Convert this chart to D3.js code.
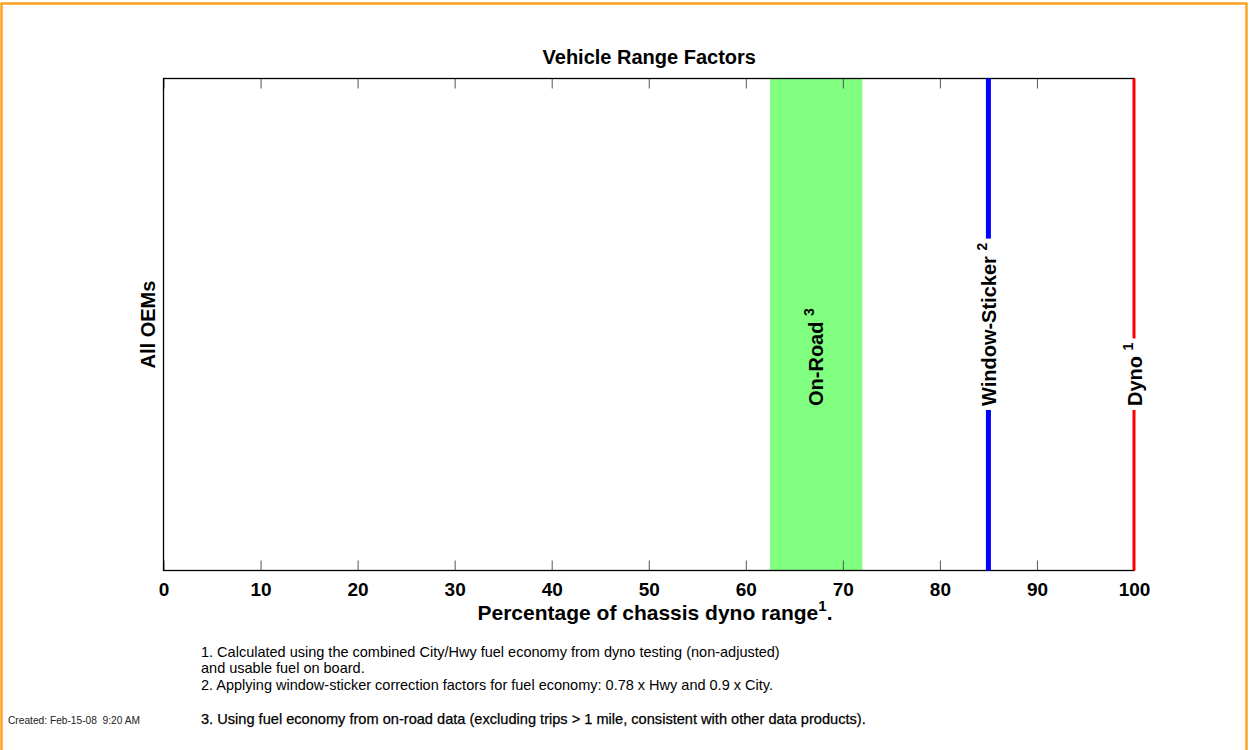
<!DOCTYPE html>
<html><head><meta charset="utf-8">
<script src="https://cdn.jsdelivr.net/npm/d3@7"></script>
<style>
body{margin:0;background:#fff;}
svg{display:block;font-family:"Liberation Sans",Arial,sans-serif;}
</style></head>
<body><svg id="c" width="1249" height="750"></svg>
<script>
// ---- data ----
const title = "Vehicle Range Factors";
const yCategory = "All OEMs";
const xTicks = [0,10,20,30,40,50,60,70,80,90,100];
const bandLabels = ["On-Road"];
const bandNotes = ["3"];
const bandStart = [62.5];
const bandEnd = [72];
const lineLabels = ["Window-Sticker","Dyno"];
const lineNotes = ["2","1"];
const lineValues = [85,100];
const xLabel = "Percentage of chassis dyno range";
const footnotes = [
  "1. Calculated using the combined City/Hwy fuel economy from dyno testing (non-adjusted)",
  "and usable fuel on board.",
  "2. Applying window-sticker correction factors for fuel economy: 0.78 x Hwy and 0.9 x City."
];
const footnote3 = "3. Using fuel economy from on-road data (excluding trips > 1 mile, consistent with other data products).";
const created = "Created: Feb-15-08  9:20 AM";

// ---- layout ----
const svg = d3.select("#c");
const L = 163.5, R = 1134, T = 78.5, B = 570.5;
const x = d3.scaleLinear().domain([0,100]).range([L,R]);
const lineColors = ["#0000ff","#ff0000"];
const lineWidths = [5,3];

// orange frame
svg.append("rect").attr("x",1.5).attr("y",3.5).attr("width",1245).attr("height",760)
  .attr("fill","none").attr("stroke","#ffa21f").attr("stroke-width",2.5);

// title
svg.append("text").attr("x",(L+R)/2+0.5).attr("y",64).attr("text-anchor","middle")
  .attr("font-size",20).attr("font-weight","bold").text(title);

// band
svg.selectAll("rect.band").data(bandStart).enter().append("rect").attr("class","band")
  .attr("x",(d)=>x(d)).attr("width",(d,i)=>x(bandEnd[i])-x(d))
  .attr("y",T).attr("height",B-T).attr("fill","#80ff80");

// axes
const axB = d3.axisBottom(x).tickValues(xTicks).tickSize(-10).tickPadding(12).tickFormat(d3.format("d"));
const gB = svg.append("g").attr("transform",`translate(0,${B})`).call(axB);
gB.select(".domain").remove();
gB.selectAll(".tick line").attr("stroke","#555").attr("stroke-width",1);
gB.selectAll(".tick text").attr("font-size",19).attr("font-weight","bold")
  .attr("font-family","'Liberation Sans',Arial,sans-serif").attr("fill","#000");
const axT = d3.axisTop(x).tickValues(xTicks).tickSize(-10).tickFormat("");
const gT = svg.append("g").attr("transform",`translate(0,${T})`).call(axT);
gT.select(".domain").remove();
gT.selectAll(".tick line").attr("stroke","#555").attr("stroke-width",1);

// plot frame
svg.append("rect").attr("x",L).attr("y",T).attr("width",R-L).attr("height",B-T)
  .attr("fill","none").attr("stroke","#000").attr("stroke-width",1.3);

// lines with labels
lineValues.forEach((v,i)=>{
  svg.append("line").attr("x1",x(v)).attr("x2",x(v)).attr("y1",T).attr("y2",B)
    .attr("stroke",lineColors[i]).attr("stroke-width",lineWidths[i]);
});

function vlabel(xv, label, note, bg){
  const g = svg.append("g").attr("transform",`translate(${xv},406) rotate(-90)`);
  const t = g.append("text").attr("x",0).attr("y",0).attr("font-size",20).attr("font-weight","bold");
  t.append("tspan").text(label+" ");
  t.append("tspan").attr("font-size",14).attr("dy",-9).text(note);
  if(bg){
    const bb = t.node().getBBox();
    g.insert("rect","text").attr("x",bb.x-4).attr("y",bb.y-1).attr("width",bb.width+8).attr("height",bb.height+2).attr("fill","#fff");
  }
  return g;
}
bandStart.forEach((s,i)=>{ vlabel((x(s)+x(bandEnd[i]))/2+7, bandLabels[i], bandNotes[i], false); });
lineValues.forEach((v,i)=>{ vlabel(x(v)+8, lineLabels[i], lineNotes[i], true); });

// y label
svg.append("text").attr("transform",`translate(155,${(T+B)/2}) rotate(-90)`)
  .attr("text-anchor","middle").attr("font-size",20).attr("font-weight","bold").text(yCategory);

// x label
const xl = svg.append("text").attr("x",655).attr("y",620).attr("text-anchor","middle")
  .attr("font-size",21).attr("font-weight","bold");
xl.append("tspan").text(xLabel);
xl.append("tspan").attr("font-size",15).attr("dy",-9).text("1");
xl.append("tspan").attr("dy",9).text(".");

// footnotes
const fy = [657,673,690];
footnotes.forEach((f,i)=>{
  svg.append("text").attr("x",201).attr("y",fy[i]).attr("font-size",14.5).attr("fill","#000").text(f);
});
svg.append("text").attr("x",201).attr("y",724).attr("font-size",14.6).attr("fill","#000")
  .attr("stroke","#000").attr("stroke-width",0.25).text(footnote3);
svg.append("text").attr("x",8).attr("y",724).attr("font-size",10.2).attr("fill","#222")
  .style("white-space","pre").text(created);
</script></body></html>
